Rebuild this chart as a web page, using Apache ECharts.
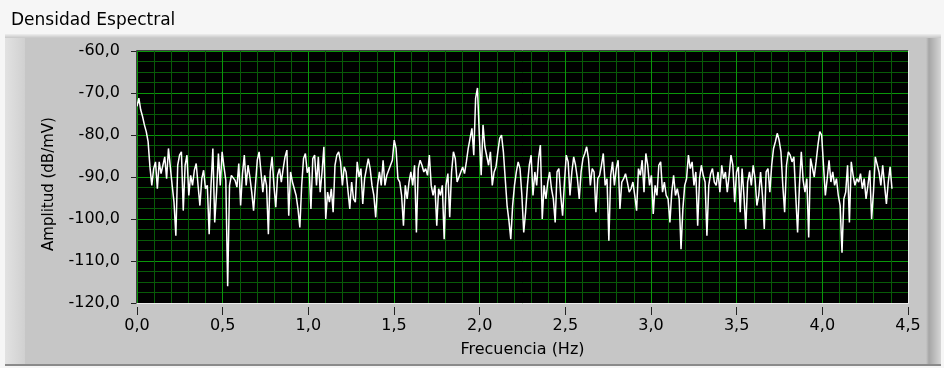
<!DOCTYPE html>
<html>
<head>
<meta charset="utf-8">
<script src="https://cdn.jsdelivr.net/npm/echarts@6/dist/echarts.min.js"></script>
<style>
html,body{margin:0;padding:0;background:#f6f6f6;}
#chart{width:944px;height:368px;}
</style>
</head>
<body>
<div id="chart"></div>
<script>
// ---- data ----
const chartTitle = 'Densidad Espectral';
const xAxisName = 'Frecuencia (Hz)';
const yAxisName = 'Amplitud (dB/mV)';
const xTicks = [0, 0.5, 1, 1.5, 2, 2.5, 3, 3.5, 4, 4.5];
const yTicks = [-120, -110, -100, -90, -80, -70, -60];
const freqStep = 0.0108; // spectral bin width (Hz)

const ampSeg1 = [
  -73.2, -71.2, -74, -75.6, -77.6, -79.2, -81.6, -87.6, -92, -88,
  -86.4, -92.8, -86.4, -89.2, -87.2, -85.2, -90.4, -83.2, -82.8, -92,
  -96, -104, -87.2, -84.8, -84, -98, -87.2, -84.8, -94.4, -89.6,
  -92, -88.4, -86.8, -92, -96.8, -90.4, -88.4, -92.8, -92, -103.6, -92,
  -83.2, -100.8, -93.6, -84.4, -92, -84, -87.6, -90.8, -116, -92,
  -89.6, -89.2, -90.8, -92.4, -86.8, -96.8, -89.2, -84.8, -92, -87.2,
  -90, -93.6, -98, -92, -86, -84, -88.8, -93.6, -89.6, -92, -103.6,
  -88.8, -85.2, -92, -97.2, -89.6, -88, -91.2, -88, -85.2, -83.6,
  -99.2, -88.8, -91.2, -92.8, -94.4, -97.6, -102, -92, -85.6, -84.4,
  -89, -87.6, -97.6, -85.6, -84.8, -92, -85.2, -93.6, -88.8, -82.8, -100
];
const ampSeg2 = [
  -93.6, -96, -92.8, -98.4, -87.2, -84.8, -84, -86.4, -92, -87.6,
  -88.8, -89.2, -97.6, -91.2, -95.2, -96, -86.4, -90, -88, -96.4,
  -90.4, -88, -85.6, -88, -92, -94.4, -99.6, -92, -88.8, -92,
  -86, -92, -89.6, -88.4, -87.2, -86, -81.2, -83.2, -90.4, -91.2,
  -94.4, -101.6, -92, -95.2, -91.2, -88.8, -92, -87.2, -103.2, -88,
  -86, -87.2, -88.8, -88, -89.6, -84.8, -92, -94.4, -92, -101.6,
  -92.8, -94.4, -92, -104.8, -92, -89.2, -99.6, -88.8, -84, -85.6,
  -91.2, -90, -89.6, -87.6, -89.2, -86.4, -83.2, -80.8, -78.4, -84.8,
  -71.2, -68.8, -80, -89.6, -77.6, -82.8, -83.2, -87.2, -84, -92,
  -88.8, -87.6, -84, -80.8, -80, -84, -90.4, -96.8, -100.4, -104.8,
  -96.8, -92, -88.8, -86.4
];
const ampSeg3 = [
  -88, -94.4, -103.2, -98.4, -92, -87.2, -84.8, -94.4, -88.8, -92,
  -85.6, -82.4, -100, -92, -95.2, -91.2, -88.8, -92.8, -95.2, -100.8,
  -88.8, -88, -94.4, -99.2, -91.2, -84.8, -86.4, -94.4, -88.8,
  -85.2, -87.2, -90.4, -95.2, -88.8, -85.6, -84.4, -82.8, -85.6, -92,
  -88, -88.8, -98.4, -90.4, -89.6, -87.2, -84.4, -92, -90.4, -105.2,
  -89.6, -86.4, -92, -88, -86, -97.6, -91.2, -90.4, -89.2,
  -91.2, -93.6, -92.8, -91.2, -94.4, -98, -88, -89.6, -86, -93.6,
  -84.4, -87.2, -92, -89.6, -98.8, -92, -94.4, -87.2, -86.4, -93.6,
  -91.2, -94.4, -95.2, -100.8, -93.6, -89.6, -94.4, -92.8, -95.2,
  -107.2, -97.6, -92, -90.4, -84.8, -88, -86.4, -92, -88.8, -101.6,
  -90.4, -87.2, -89.6, -91.2, -104, -92, -89.2
];
const ampSeg4 = [
  -88, -91.2, -92, -88.8, -93.6, -87.2, -90.4, -88.8, -93.6, -89.6,
  -84.8, -87.2, -96, -88.8, -87.6, -98.4, -88, -94.4, -102.4, -91.2,
  -88.8, -92, -87.2, -90.4, -96.8, -94.4, -88.8, -94.4, -102.4, -88.8,
  -88, -93.6, -87.2, -83.2, -81.6, -79.6, -81.2, -84, -92, -98.4,
  -87.2, -84, -84.8, -86.4, -85.2, -94.4, -103.2, -92, -84, -90.8,
  -93.6, -90.4, -104.4, -85.6, -85.2, -90, -86.4, -82.4, -79.2, -80,
  -87.2, -94.4, -90.4, -86, -91.2, -88.8, -92, -90.4, -94.4, -96.8,
  -108, -95.2, -93.6, -87.2, -100.8, -86.4, -89.6, -92, -90.4, -91.2,
  -89.2, -92.8, -90.4, -95.2, -92, -88.4, -100, -93.6, -85.2, -84.8,
  -88.8, -92, -87.2, -92, -96.4, -91.2, -87.6, -92.8
];

const amplitude = ampSeg1.concat(ampSeg2, ampSeg3, ampSeg4);
const seriesData = amplitude.map((v, i) => [+(i * freqStep).toFixed(4), v]);

const FONT = '"DejaVu Sans", Verdana, sans-serif';
const fmt = v => v.toFixed(1).replace('.', ',');

const chart = echarts.init(document.getElementById('chart'), null, {renderer: 'canvas'});
chart.setOption({
  animation: false,
  backgroundColor: '#f6f6f6',
  title: {
    text: chartTitle, left: 6, top: 7,
    textStyle: {fontFamily: FONT, fontSize: 17, fontWeight: 'normal', color: '#000'}
  },
  graphic: [
    {type: 'rect', z: -10, shape: {x: 5, y: 34, width: 936, height: 332}, style: {fill: '#c6c6c6'}},
    {type: 'rect', z: -9, shape: {x: 5, y: 34, width: 20, height: 332},
      style: {fill: new echarts.graphic.LinearGradient(0, 0, 1, 0, [{offset: 0, color: '#e2e2e2'}, {offset: 1, color: '#d0d0d0'}])}},
    {type: 'rect', z: -9, shape: {x: 926, y: 34, width: 15, height: 332},
      style: {fill: new echarts.graphic.LinearGradient(0, 0, 1, 0, [{offset: 0, color: '#c6c6c6'}, {offset: 0.2, color: '#a6a6a6'}, {offset: 1, color: '#d6d6d6'}])}},
    {type: 'rect', z: -9, shape: {x: 5, y: 34, width: 936, height: 4},
      style: {fill: new echarts.graphic.LinearGradient(0, 0, 0, 1, [{offset: 0, color: '#eeeeee'}, {offset: 1, color: '#c6c6c6'}])}},
    {type: 'rect', z: -9, shape: {x: 5, y: 364, width: 936, height: 2}, style: {fill: '#8a8a8a'}},
    {type: 'line', z: 100, shape: {x1: 136.5, y1: 50.5, x2: 908.5, y2: 50.5}, style: {stroke: '#404040', lineWidth: 1}},
    {type: 'line', z: 100, shape: {x1: 136.5, y1: 50.5, x2: 136.5, y2: 303.5}, style: {stroke: '#404040', lineWidth: 1}},
    {type: 'line', z: 100, shape: {x1: 136.5, y1: 303.5, x2: 908.5, y2: 303.5}, style: {stroke: '#ececec', lineWidth: 1}},
    {type: 'line', z: 100, shape: {x1: 908.5, y1: 50.5, x2: 908.5, y2: 303.5}, style: {stroke: '#ececec', lineWidth: 1}}
  ],
  grid: {left: 137, right: 36, top: 51, bottom: 65, show: true, backgroundColor: '#000000', borderWidth: 0, containLabel: false},
  xAxis: {
    type: 'value', min: xTicks[0], max: xTicks[xTicks.length - 1], interval: 0.5,
    offset: 4,
    name: xAxisName, nameLocation: 'middle', nameGap: 35,
    nameTextStyle: {fontFamily: FONT, fontSize: 16, color: '#000'},
    axisLine: {show: false},
    axisTick: {show: true, length: 8, lineStyle: {color: '#222', width: 1}},
    axisLabel: {fontFamily: FONT, fontSize: 16, color: '#000', margin: 11, formatter: fmt},
    splitLine: {show: true, lineStyle: {color: '#0a960a', width: 1}},
    minorTick: {show: false, splitNumber: 5},
    minorSplitLine: {show: true, lineStyle: {color: '#085a08', width: 1}}
  },
  yAxis: {
    type: 'value', min: yTicks[0], max: yTicks[yTicks.length - 1], interval: 10,
    offset: 4,
    name: yAxisName, nameLocation: 'middle', nameGap: 76, nameRotate: 90,
    nameTextStyle: {fontFamily: FONT, fontSize: 15, color: '#000', padding: [0, 14, 0, 0]},
    axisLine: {show: false},
    axisTick: {show: true, length: 6, lineStyle: {color: '#222', width: 1}},
    axisLabel: {fontFamily: FONT, fontSize: 16, color: '#000', margin: 13, formatter: fmt},
    splitLine: {show: true, lineStyle: {color: '#0a960a', width: 1}},
    minorTick: {show: false, splitNumber: 4},
    minorSplitLine: {show: true, lineStyle: {color: '#085a08', width: 1}}
  },
  series: [{
    type: 'line', data: seriesData, showSymbol: false, symbol: 'none',
    lineStyle: {color: '#ffffff', width: 1.5}, z: 5
  }]
});
</script>
</body>
</html>
